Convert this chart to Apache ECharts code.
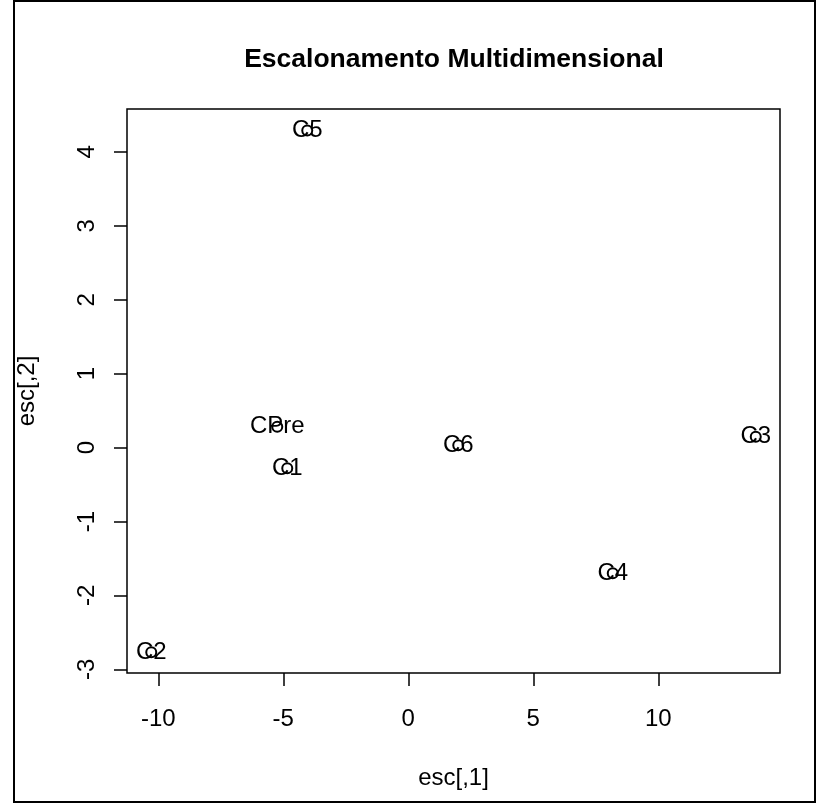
<!DOCTYPE html>
<html>
<head>
<meta charset="utf-8">
<script src="https://cdn.jsdelivr.net/npm/echarts@6/dist/echarts.min.js"></script>
<style>html,body{margin:0;padding:0;background:#fff;}#c{width:817px;height:803px;}</style>
</head>
<body>
<div id="c"></div>
<script>
// Data
const pointNames = ['C1', 'C2', 'C3', 'C4', 'C5', 'C6', 'CPre'];
const esc1 = [-4.84, -10.28, 13.9, 8.18, -4.04, 2.0, -5.24];
const esc2 = [-0.28, -2.77, 0.145, -1.70, 4.29, 0.03, 0.28];
const xTicks = [-10, -5, 0, 5, 10];
const yTicks = [-3, -2, -1, 0, 1, 2, 3, 4];
const titleText = 'Escalonamento Multidimensional';
const xName = 'esc[,1]';
const yName = 'esc[,2]';

const FONT = '"Liberation Sans", Arial, sans-serif';
const chart = echarts.init(document.getElementById('c'), null, {renderer: 'canvas'});
const pts = pointNames.map((n, i) => ({name: n, value: [esc1[i], esc2[i]]}));

chart.setOption({
  animation: false,
  backgroundColor: '#fff',
  title: {
    text: titleText,
    left: 449,
    textAlign: 'center',
    top: 41,
    textStyle: {fontFamily: FONT, fontWeight: 'bold', fontSize: 26.5, color: '#000'}
  },
  grid: {
    left: 127, right: 37, top: 109, bottom: 130,
    show: true, borderColor: '#000', borderWidth: 1.5, backgroundColor: 'transparent'
  },
  xAxis: {
    type: 'value', min: -11.25, max: 14.87,
    splitLine: {show: false},
    axisLine: {show: false, onZero: false},
    axisTick: {show: true, inside: false, length: 13, customValues: xTicks, lineStyle: {color: '#000', width: 1.5}},
    axisLabel: {customValues: xTicks, margin: 34, fontFamily: FONT, fontSize: 24, color: '#000'},
    name: xName, nameLocation: 'middle', nameGap: 93,
    nameTextStyle: {fontFamily: FONT, fontSize: 24, color: '#000'}
  },
  yAxis: {
    type: 'value', min: -3.05, max: 4.58,
    splitLine: {show: false},
    axisLine: {show: false, onZero: false},
    axisTick: {show: true, inside: false, length: 13, customValues: yTicks, lineStyle: {color: '#000', width: 1.5}},
    axisLabel: {customValues: yTicks, rotate: 90, margin: 28, fontFamily: FONT, fontSize: 24, color: '#000'},
    name: yName, nameLocation: 'middle', nameGap: 88, nameRotate: 90,
    nameTextStyle: {fontFamily: FONT, fontSize: 24, color: '#000'}
  },
  graphic: [{
    type: 'rect', silent: true,
    shape: {x: 14, y: 1, width: 801, height: 801},
    style: {fill: 'none', stroke: '#000', lineWidth: 2}
  }],
  series: [{
    type: 'scatter',
    data: pts,
    symbol: 'emptyCircle',
    symbolSize: 10,
    itemStyle: {color: '#000', borderColor: '#000', borderWidth: 1, opacity: 1},
    label: {
      show: true, position: 'inside', formatter: '{b}',
      fontFamily: FONT, fontSize: 24, color: '#000', textBorderWidth: 0, opacity: 1
    }
  }]
});
</script>
</body>
</html>
